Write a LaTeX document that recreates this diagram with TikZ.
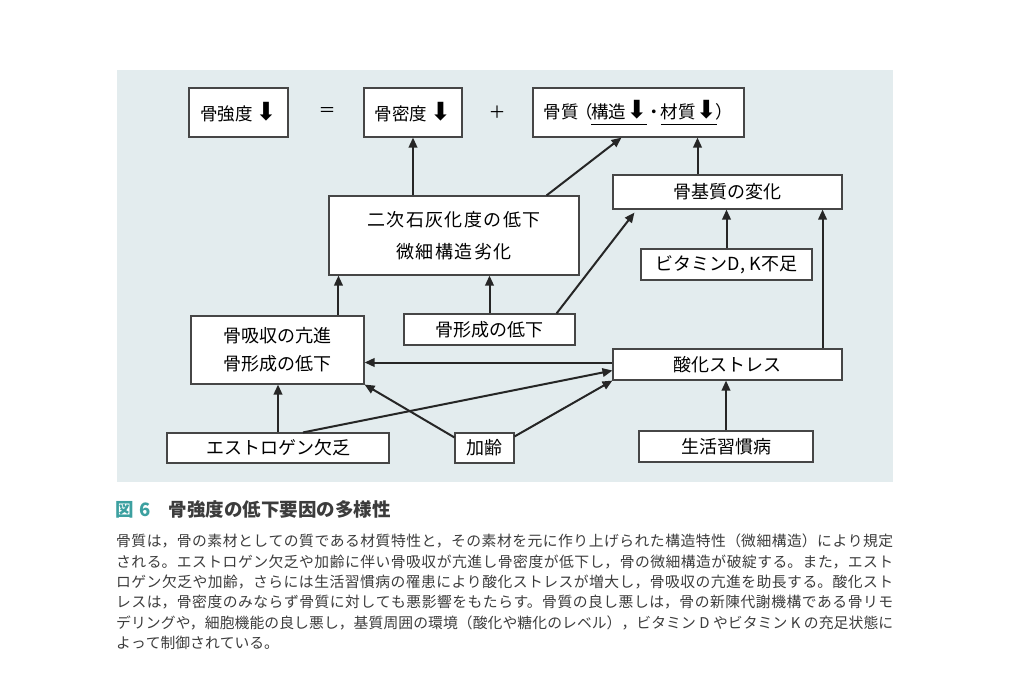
\documentclass[tikz,border=0pt]{standalone}
\usepackage{fontspec}
\setmainfont{Noto Sans CJK JP}
\newfontfamily\symfont{DejaVu Sans}
\newfontfamily\widefont[LetterSpace=8]{Noto Sans CJK JP}
\usetikzlibrary{arrows.meta, positioning, calc}
\definecolor{panelgray}{RGB}{227, 236, 238}
\definecolor{figteal}{RGB}{60, 160, 160}
\definecolor{textgray}{RGB}{60, 60, 60}
\definecolor{linegray}{RGB}{70, 70, 70}
\XeTeXlinebreaklocale "ja"
\XeTeXlinebreakskip=0pt plus 1pt
\newcommand{\dn}{{\fontsize{25}{25}\symfont ⬇}}
\newcommand{\ulbar}[1]{\setbox0=\hbox{#1}\rlap{\rule[-7pt]{\wd0}{1.3pt}}\box0}

\begin{document}
\begin{tikzpicture}[x=1pt, y=-1pt,
  box/.style={draw=linegray, fill=white, line width=1.1pt, inner sep=0pt, align=center, font=\fontsize{18}{28}\selectfont},
  arr/.style={draw=black!85, line width=2pt, -{Triangle[length=10pt, width=8.5pt]}}]
  \useasboundingbox (0,0) rectangle (1024,676);
  % panel
  \fill[panelgray] (117,70) rectangle (893,482);

  % top row
  \node[box, minimum width=99pt, minimum height=49pt, font=\fontsize{17.5}{20}\selectfont] (strength) at (238.5,112.5) {骨強度\,\dn};
  \node[font=\fontsize{17}{20}\selectfont] (eq) at (327,112) {＝};
  \node[box, minimum width=98pt, minimum height=49pt, font=\fontsize{17.5}{20}\selectfont] (density) at (413,112.5) {骨密度\,\dn};
  \node[font=\fontsize{17}{20}\selectfont] (plus) at (497,112) {＋};
  \node[box, minimum width=211pt, minimum height=49pt, font=\fontsize{17.5}{20}\selectfont] (quality) at (638.5,112.5) {骨質\kern-3pt（\kern-2pt\ulbar{構造\dn}\kern-2pt・\kern-2pt\ulbar{材質\dn}\kern-1pt）};

  % middle
  \node[box, minimum width=250pt, minimum height=79pt, font=\fontsize{18}{32}\selectfont\widefont] (mineral) at (454,235.5) {二次石灰化度の低下\\微細構造劣化};
  \node[box, minimum width=229pt, minimum height=34pt] (matrix) at (727.5,192) {骨基質の変化};
  \node[box, minimum width=171pt, minimum height=31pt] (vitamin) at (726.5,264.5) {ビタミンD, K不足};
  \node[box, minimum width=173pt, minimum height=68pt] (resorption) at (277.5,350) {骨吸収の亢進\\骨形成の低下};
  \node[box, minimum width=171pt, minimum height=31pt] (formation) at (489.5,329.5) {骨形成の低下};
  \node[box, minimum width=229pt, minimum height=31pt] (oxidative) at (727.5,364.5) {酸化ストレス};

  % bottom row
  \node[box, minimum width=222pt, minimum height=30pt] (estrogen) at (278,448) {エストロゲン欠乏};
  \node[box, minimum width=59pt, minimum height=30pt] (aging) at (484.5,448) {加齢};
  \node[box, minimum width=174pt, minimum height=31pt] (lifestyle) at (726,446.5) {生活習慣病};

  % arrows
  \draw[arr] (mineral.north -| density) -- (density.south);
  \draw[arr] ([xshift=-33pt]mineral.north east) -- ([xshift=-17pt]quality.south);
  \draw[arr] ([xshift=-30pt]matrix.north) -- ([xshift=-30pt]matrix.north |- quality.south);
  \draw[arr] (vitamin.north) -- (vitamin.north |- matrix.south);
  \draw[arr] ([xshift=-20pt]oxidative.north east) -- ([xshift=-20pt]oxidative.north east |- matrix.south);
  \draw[arr] ([xshift=-19pt]formation.north east) -- ([xshift=22pt, yshift=-3pt]matrix.south west);
  \draw[arr] (formation.north) -- (formation.north |- mineral.south);
  \draw[arr] ([xshift=10pt]mineral.south west |- resorption.north) -- ([xshift=10pt]mineral.south west);
  \draw[arr] ([yshift=2pt]oxidative.west) -- ([yshift=2pt]oxidative.west -| resorption.east);
  \draw[arr] (estrogen.north) -- (estrogen.north |- resorption.south);
  \draw[arr] ([xshift=25pt]estrogen.north) -- ([yshift=10pt]oxidative.south west);
  \draw[arr] ([yshift=-5pt]aging.north west) -- (resorption.south east);
  \draw[arr] ([yshift=-4pt]aging.north east) -- (oxidative.south west);
  \draw[arr] (lifestyle.north) -- (lifestyle.north |- oxidative.south);

  % caption
  \node[anchor=west, inner sep=0pt, text=textgray, font=\fontsize{18.5}{20}\selectfont\bfseries] (title) at (115,509) {\textcolor{figteal}{図\hspace{6pt}6}\hspace{18pt}骨強度の低下要因の多様性};
  \node[anchor=north west, inner sep=0pt, text width=777pt, align=justify, text=textgray, font=\fontsize{14.8}{20.3}\selectfont] (body) at (116,534) {%
骨質は，骨の素材としての質である材質特性と，その素材を元に作り上げられた構造特性（微細構造）により規定\linebreak
される。エストロゲン欠乏や加齢に伴い骨吸収が亢進し骨密度が低下し，骨の微細構造が破綻する。また，エスト\linebreak
ロゲン欠乏や加齢，さらには生活習慣病の罹患により酸化ストレスが増大し，骨吸収の亢進を助長する。酸化スト\linebreak
レスは，骨密度のみならず骨質に対しても悪影響をもたらす。骨質の良し悪しは，骨の新陳代謝機構である骨リモ\linebreak
デリングや，細胞機能の良し悪し，基質周囲の環境（酸化や糖化のレベル），ビタミン D やビタミン K の充足状態に\linebreak
よって制御されている。};
\end{tikzpicture}
\end{document}
